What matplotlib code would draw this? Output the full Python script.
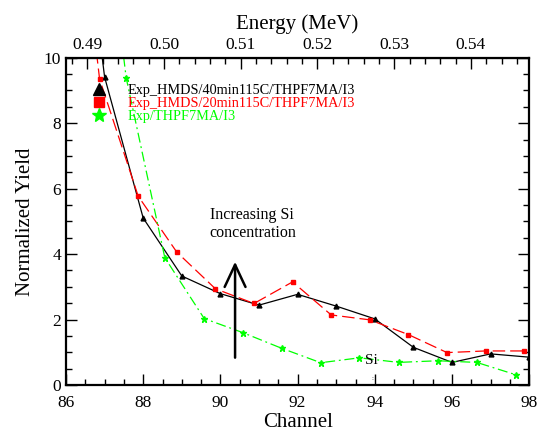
import matplotlib
matplotlib.use("Agg")
import matplotlib.pyplot as plt
from matplotlib.lines import Line2D
from matplotlib.ticker import MultipleLocator, FixedLocator, FormatStrFormatter

plt.rcParams['font.family'] = ['Liberation Serif', 'DejaVu Serif']

# ---- data ----
ch_black = [86.0, 87.0, 88.0, 89.0, 90.0, 91.0, 92.0, 93.0, 94.0, 95.0, 96.0, 97.0, 98.0]
y_black = [19.0, 9.41, 5.10, 3.33, 2.79, 2.44, 2.77, 2.41, 2.02, 1.15, 0.69, 0.95, 0.85]

ch_red = [85.87, 86.87, 87.87, 88.87, 89.87, 90.87, 91.87, 92.87, 93.87, 94.87, 95.87, 96.87, 97.87]
y_red = [19.5, 9.35, 5.77, 4.06, 2.94, 2.49, 3.15, 2.14, 1.99, 1.54, 0.99, 1.04, 1.04]

ch_green = [86.56, 87.56, 88.56, 89.58, 90.58, 91.59, 92.60, 93.60, 94.62, 95.63, 96.64, 97.66]
y_green = [19.0, 9.38, 3.89, 2.03, 1.60, 1.12, 0.68, 0.83, 0.69, 0.74, 0.69, 0.31]

labels = ["Exp_HMDS/40min115C/THPF7MA/I3",
          "Exp_HMDS/20min115C/THPF7MA/I3",
          "Exp/THPF7MA/I3"]
colors = ["black", "#ff0000", "#00ff00"]

energy_ticks = [0.49, 0.50, 0.51, 0.52, 0.53, 0.54]
energy_minor = [0.488 + 0.002 * i for i in range(31)]

# energy calibration of top axis (MeV = e0 + (ch - c0) * slope)
e0, c0, slope = 0.49, 86.552, 0.05 / 9.938

fig = plt.figure(figsize=(5.37, 4.33), dpi=100)
ax = fig.add_axes([0.1229, 0.1109, 0.8626, 0.7558])

ax.plot(ch_black, y_black, color=colors[0], lw=0.9, ls='-', marker='^', ms=3.5)
ax.plot(ch_red, y_red, color=colors[1], lw=0.9, ls=(0, (10, 4)), marker='s', ms=3.2)
ax.plot(ch_green, y_green, color=colors[2], lw=0.9, ls=(0, (8, 3, 1.5, 3)), marker='*', ms=5)

ax.set_xlim(86, 98)
ax.set_ylim(0, 10)
ax.xaxis.set_major_locator(MultipleLocator(2))
ax.xaxis.set_minor_locator(MultipleLocator(0.5))
ax.yaxis.set_major_locator(MultipleLocator(2))
ax.yaxis.set_minor_locator(MultipleLocator(0.5))
ax.tick_params(which='both', direction='in', right=True, top=False, labelsize=12.5, width=1)
ax.tick_params(which='major', length=8)
ax.tick_params(which='minor', length=4)
ax.tick_params(axis='x', pad=7)
for s in ax.spines.values():
    s.set_linewidth(1.6)

ax.set_xlabel("Channel", fontsize=15, labelpad=2)
ax.set_ylabel("Normalized Yield", fontsize=15, labelpad=6)

top = ax.secondary_xaxis('top', functions=(lambda c: e0 + (c - c0) * slope,
                                           lambda e: c0 + (e - e0) / slope))
top.xaxis.set_major_locator(FixedLocator(energy_ticks))
top.xaxis.set_minor_locator(FixedLocator(energy_minor))
top.xaxis.set_major_formatter(FormatStrFormatter('%.2f'))
top.tick_params(which='both', direction='in', labelsize=12.5, width=1)
top.tick_params(which='major', length=8)
top.tick_params(which='minor', length=4)
top.set_xlabel("Energy (MeV)", fontsize=15, labelpad=6)

handles = [Line2D([], [], color=colors[0], marker='^', ls='none', ms=8),
           Line2D([], [], color=colors[1], marker='s', ls='none', ms=7),
           Line2D([], [], color=colors[2], marker='*', ls='none', ms=10)]
leg = ax.legend(handles, labels, loc='upper left', bbox_to_anchor=(0.055, 0.92),
                frameon=False, fontsize=10.3, handlelength=1.0, handletextpad=1.55,
                labelspacing=0.0, borderpad=0, borderaxespad=0)
for t, c in zip(leg.get_texts(), colors):
    t.set_color(c)

ax.text(89.72, 5.45, "Increasing Si\nconcentration", fontsize=11.5, va='top', ha='left',
        linespacing=1.2)
ax.annotate("", xy=(90.38, 3.85), xytext=(90.38, 0.75),
            arrowprops=dict(arrowstyle='->,head_length=1.6,head_width=0.75', lw=1.8, color='black'))
ax.text(93.75, 0.74, "Si", fontsize=11, va='center', ha='left')
ax.text(93.95, 0.2, ":", fontsize=5, va='center', ha='center')

fig.savefig("out.png", dpi=100)
